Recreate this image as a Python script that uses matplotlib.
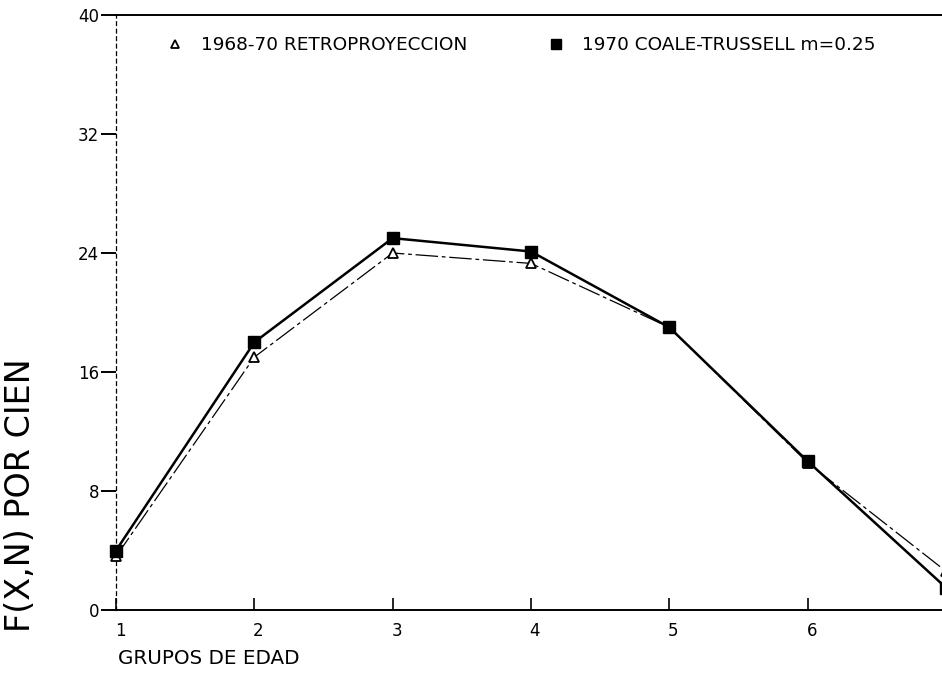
import matplotlib
matplotlib.use("Agg")
import matplotlib.pyplot as plt
from matplotlib.lines import Line2D
import matplotlib.transforms as mtransforms

plt.rcParams['font.family'] = ['DejaVu Sans']

# data
grupos = [1, 2, 3, 4, 5, 6, 7]
retro = [3.6, 17.0, 24.0, 23.3, 19.0, 9.9, 2.6]
coale = [4.0, 18.0, 25.0, 24.1, 19.0, 10.0, 1.5]
yticks = [0, 8, 16, 24, 32, 40]
xticks = [1, 2, 3, 4, 5, 6]
label_retro = "1968-70 RETROPROYECCION"
label_coale = "1970 COALE-TRUSSELL m=0.25"

fig = plt.figure(figsize=(9.42, 6.79), dpi=100)
W, H = 942, 679
x0, x1 = 116, 946
y0, y1 = 610, 15
ax = fig.add_axes([x0 / W, 1 - y0 / H, (x1 - x0) / W, (y0 - y1) / H])

ax.plot(grupos, retro, color='black', lw=0.9, ls=(0, (18, 3, 3, 3)),
        marker='^', ms=7, mfc='white', mec='black', mew=1.3, clip_on=False, zorder=3)
ax.plot(grupos, coale, color='black', lw=1.8, ls='-',
        marker='s', ms=8.5, mfc='black', mec='black', clip_on=False, zorder=4)

ax.set_xlim(1, 7)
ax.set_ylim(0, 40)
ax.set_yticks(yticks)
ax.set_yticklabels([str(v) for v in yticks])
ax.set_xticks(xticks)
ax.set_xticklabels([str(v) for v in xticks])

ax.spines['right'].set_visible(False)
ax.spines['left'].set_linestyle((0, (3, 3)))
ax.spines['left'].set_linewidth(0.9)
ax.spines['top'].set_linewidth(1.4)
ax.spines['bottom'].set_linewidth(1.4)

ax.tick_params(axis='y', direction='out', length=11, width=1.4, pad=1, labelsize=12)
ax.tick_params(axis='x', direction='in', length=9, width=1.2, pad=9, labelsize=12)
offset = mtransforms.ScaledTranslation(4 / 100, 0, fig.dpi_scale_trans)
for lab in ax.get_xticklabels():
    lab.set_transform(lab.get_transform() + offset)

fig.text(118 / W, 1 - 658 / H, "GRUPOS DE EDAD", fontsize=14.3, ha='left', va='center')
fig.text(21 / W, 1 - 495 / H, "F(X,N) POR CIEN", fontsize=24, rotation=90,
         ha='center', va='center')

h1 = Line2D([], [], ls='none', marker='^', ms=6, mfc='white', mec='black', mew=1.3)
h2 = Line2D([], [], ls='none', marker='s', ms=7, mfc='black', mec='black')
leg1 = ax.legend([h1], [label_retro], loc='center left',
                 bbox_to_anchor=((166 - x0) / (x1 - x0), (y0 - 45) / (y0 - y1)),
                 frameon=False, fontsize=13.3, handlelength=1.0, handletextpad=0.9,
                 borderpad=0, borderaxespad=0)
ax.add_artist(leg1)
ax.legend([h2], [label_coale], loc='center left',
          bbox_to_anchor=((547 - x0) / (x1 - x0), (y0 - 45) / (y0 - y1)),
          frameon=False, fontsize=13.3, handlelength=1.0, handletextpad=0.9,
          borderpad=0, borderaxespad=0)

fig.savefig("out.png", dpi=100)
